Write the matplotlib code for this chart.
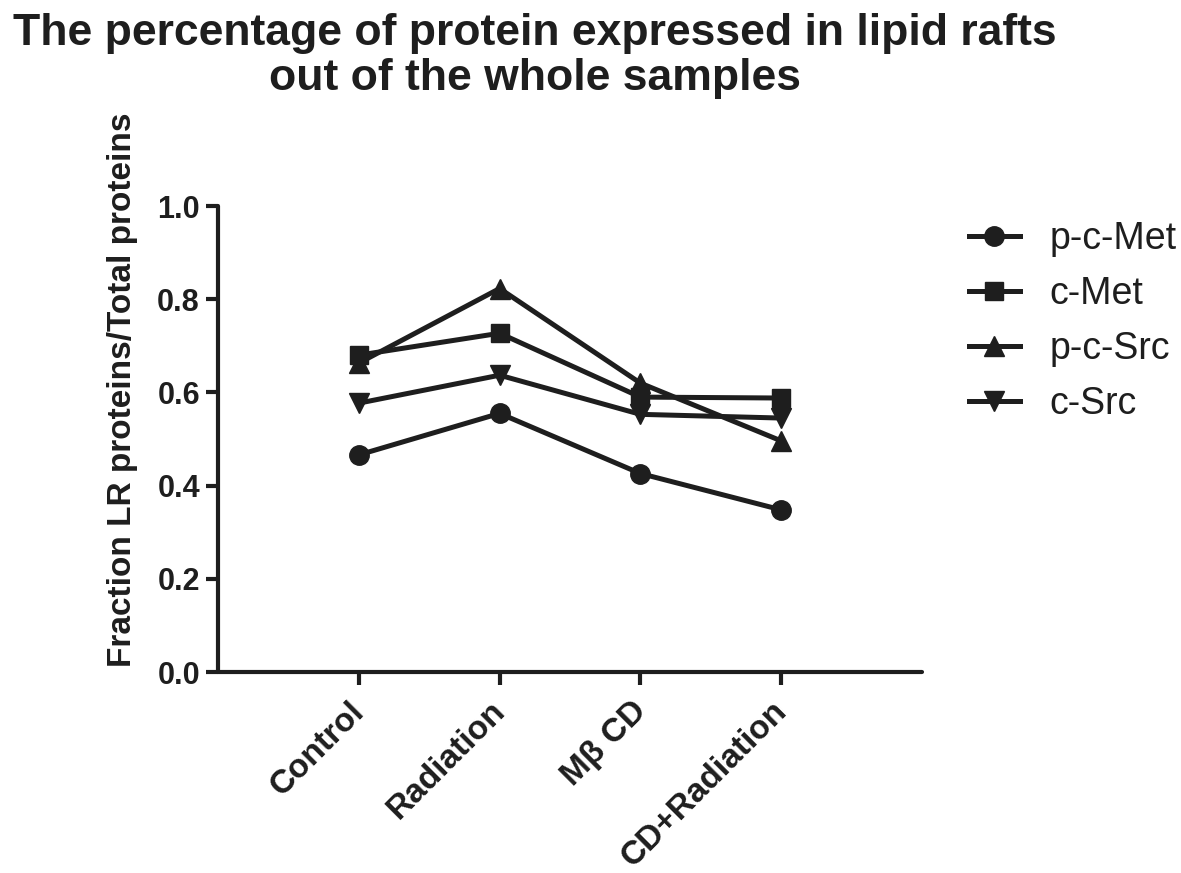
import matplotlib
matplotlib.use("Agg")
import matplotlib.pyplot as plt
import matplotlib.transforms as mtransforms
import numpy as np

plt.rcParams['font.family'] = ['Liberation Sans', 'DejaVu Sans']

# data
groups = ['Control', 'Radiation', 'M\u03b2 CD', 'CD+Radiation']
p_c_met = [0.466, 0.555, 0.426, 0.348]
c_met = [0.680, 0.727, 0.590, 0.588]
p_c_src = [0.663, 0.823, 0.620, 0.496]
c_src = [0.577, 0.637, 0.553, 0.545]

series = [
    ('p-c-Met', p_c_met, 'o', 14, 3),
    ('c-Met', c_met, 's', 13, 4),
    ('p-c-Src', p_c_src, '^', 14, 2),
    ('c-Src', c_src, 'v', 14, 2),
]

ink = '#1e1e1e'
x = np.arange(1, len(groups) + 1)

fig = plt.figure(figsize=(11.81, 8.73), dpi=100)
ax = fig.add_axes([0.1846, 0.2302, 0.5961, 0.5338])

for name, vals, mk, ms, z in series:
    ax.plot(x, vals, color=ink, linewidth=3.6, marker=mk, markersize=ms,
            markerfacecolor=ink, markeredgecolor=ink, label=name, zorder=z)

ax.set_xlim(0, 5)
ax.set_ylim(0, 1.0)
ax.set_yticks([0.0, 0.2, 0.4, 0.6, 0.8, 1.0])
ax.set_yticklabels(['0.0', '0.2', '0.4', '0.6', '0.8', '1.0'],
                   fontsize=22, fontweight='bold', color=ink)
ax.set_xticks(x)
ax.set_xticklabels(groups, rotation=45, ha='right', rotation_mode='anchor',
                   fontsize=24, fontweight='bold', color=ink)

for side in ['top', 'right']:
    ax.spines[side].set_visible(False)
for side in ['left', 'bottom']:
    ax.spines[side].set_linewidth(3)
    ax.spines[side].set_color(ink)
    ax.spines[side].set_capstyle('round')
ax.tick_params(axis='both', direction='out', length=9, width=3, color=ink, pad=4)

# nudge the slanted category labels left/down (after tick_params, which resets transforms)
shift = mtransforms.ScaledTranslation(-0.10, -0.055, fig.dpi_scale_trans)
for lbl in ax.get_xticklabels():
    lbl.set_transform(lbl.get_transform() + shift)

ax.set_ylabel('Fraction LR proteins/Total proteins', fontsize=24,
              fontweight='bold', color=ink)
ax.yaxis.set_label_coords(-0.114, 0.605)

fig.text(0.453, 0.985, 'The percentage of protein expressed in lipid rafts\nout of the whole samples',
         ha='center', va='top', fontsize=32, fontweight='bold', color=ink,
         linespacing=1.12)

leg = ax.legend(loc='upper left', bbox_to_anchor=(0.792, 0.785),
                bbox_transform=fig.transFigure, frameon=False, fontsize=27,
                handlelength=1.35, handletextpad=0.8, labelspacing=0.5,
                markerscale=1.0)
for t in leg.get_texts():
    t.set_color(ink)

fig.savefig('out.png', dpi=100)
